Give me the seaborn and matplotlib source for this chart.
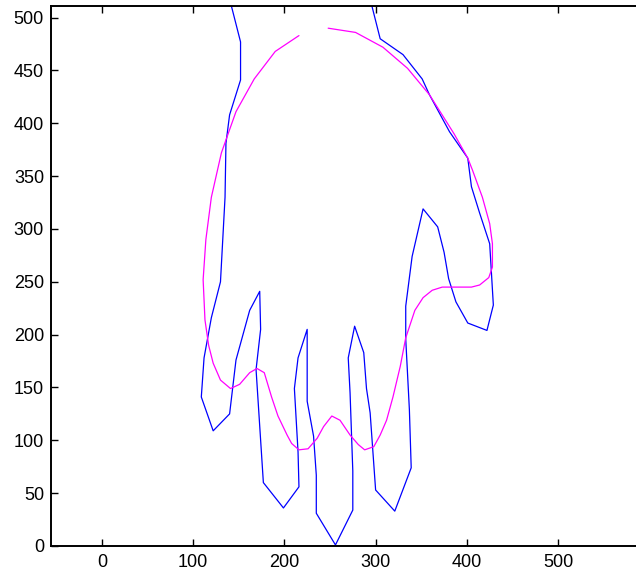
import matplotlib
matplotlib.use("Agg")
import matplotlib.pyplot as plt
import pandas as pd
import seaborn as sns

# Hand outline (polyline traced around the fingers)
outline_x = [139, 152, 152, 140, 136, 135, 130, 120, 112, 109, 122, 140, 147, 162,
             173, 174, 169, 177, 199, 216, 215, 211, 215, 225, 225, 225, 232, 235,
             235, 256, 275, 275, 272, 270, 277, 287, 290, 294, 300, 321, 339, 337,
             333, 333, 340, 352, 368, 375, 380, 388, 401, 422, 429, 425, 414, 405,
             401, 381, 359, 351, 330, 305, 293]
outline_y = [521, 477, 441, 408, 381, 330, 250, 216, 178, 141, 109, 125, 176, 223,
             241, 205, 167, 60, 36, 56, 89, 149, 178, 205, 171, 137, 104, 67,
             31, 1, 34, 71, 145, 178, 208, 183, 149, 126, 53, 33, 74, 129,
             196, 227, 274, 319, 302, 278, 253, 231, 211, 204, 228, 286, 315, 340,
             367, 392, 427, 442, 465, 480, 521]

# Smoothed contour
contour_x = [216, 190, 167, 147, 140, 131, 120, 114, 111, 113, 117, 122, 130, 141,
             151, 162, 170, 178, 186, 193, 203, 208, 216, 226, 236, 243, 252, 261,
             272, 281, 288, 298, 305, 312, 319, 327, 333, 343, 352, 362, 373, 405,
             414, 424, 428, 428, 425, 417, 406, 401, 386, 359, 335, 308, 278, 248]
contour_y = [483, 468, 442, 411, 394, 372, 330, 290, 252, 214, 190, 173, 157, 149,
             153, 164, 168, 164, 141, 123, 105, 97, 91, 92, 102, 113, 123, 119,
             105, 96, 91, 94, 105, 119, 141, 170, 197, 223, 235, 242, 245, 245,
             247, 254, 264, 286, 305, 330, 356, 367, 390, 427, 452, 472, 486, 490]

x_ticks = [0, 100, 200, 300, 400, 500]
y_ticks = [0, 50, 100, 150, 200, 250, 300, 350, 400, 450, 500]

outline = pd.DataFrame({"x": outline_x, "y": outline_y})
contour = pd.DataFrame({"x": contour_x, "y": contour_y})

sns.set_style("white")
plt.rcParams["font.family"] = ["Liberation Sans", "DejaVu Sans"]

fig = plt.figure(figsize=(6.36, 5.81), dpi=100)
ax = fig.add_axes([51 / 636, 35 / 581, (640 - 51) / 636, 540 / 581])

sns.lineplot(data=outline, x="x", y="y", sort=False, estimator=None,
             color="#0000ff", linewidth=0.9, ax=ax)
sns.lineplot(data=contour, x="x", y="y", sort=False, estimator=None,
             color="#ff00ff", linewidth=0.9, ax=ax)

ax.set_xlim(-55.7, 589.7)
ax.set_ylim(0, 511)
ax.set_xticks(x_ticks)
ax.set_yticks(y_ticks)
ax.set_xlabel("")
ax.set_ylabel("")

for side in ["left", "bottom", "top", "right"]:
    ax.spines[side].set_visible(True)
    ax.spines[side].set_color("black")
    ax.spines[side].set_linewidth(1.4)

ax.tick_params(axis="x", direction="in", length=5, width=1, top=True,
               bottom=True, labelsize=13, pad=6, colors="black")
ax.tick_params(axis="y", direction="in", length=5, width=1, left=True,
               right=False, labelsize=13, pad=5, colors="black")

fig.savefig("out.png", dpi=100)
